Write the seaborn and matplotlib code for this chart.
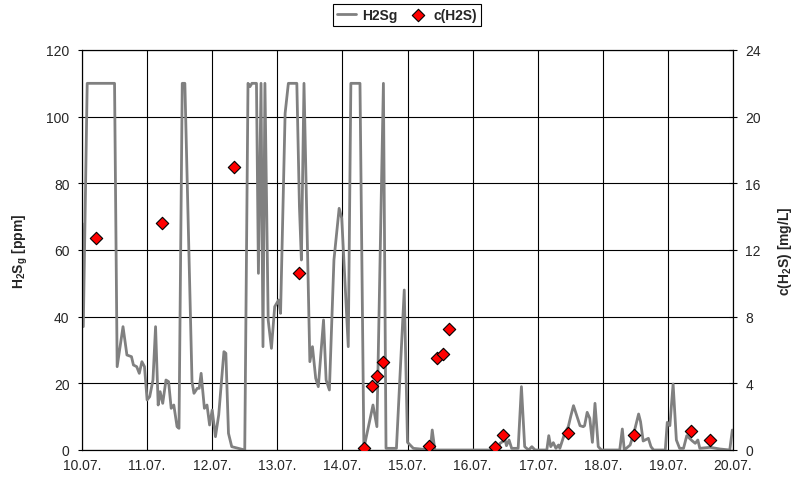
import matplotlib
matplotlib.use("Agg")
import matplotlib.pyplot as plt
import numpy as np
import pandas as pd
import seaborn as sns

# ---- data (x = days after 10.07.) ----
gas_day = [0.00, 0.02, 0.08, 0.50, 0.54, 0.63, 0.69, 0.76, 0.79, 0.84, 0.88, 0.92, 0.96,
           1.00, 1.04, 1.09, 1.13, 1.17, 1.20, 1.24, 1.29, 1.33, 1.37, 1.41, 1.46, 1.49,
           1.54, 1.58, 1.69, 1.72, 1.77, 1.80, 1.83, 1.88, 1.92, 1.96, 2.00, 2.05, 2.10,
           2.18, 2.21, 2.25, 2.30, 2.50, 2.55, 2.58, 2.61, 2.68, 2.71, 2.75, 2.78, 2.81,
           2.86, 2.91, 2.96, 3.02, 3.05, 3.12, 3.17, 3.30, 3.34, 3.37, 3.41, 3.50, 3.54,
           3.59, 3.63, 3.71, 3.75, 3.80, 3.87, 3.95, 3.99, 4.09, 4.13, 4.27, 4.33, 4.47,
           4.53, 4.63, 4.67, 4.83, 4.95, 5.00, 5.09, 5.35, 5.38, 5.42, 6.39, 6.42, 6.50,
           6.52, 6.56, 6.60, 6.70, 6.75, 6.80, 6.86, 6.91, 6.96, 7.14, 7.17, 7.20, 7.24,
           7.28, 7.32, 7.34, 7.42, 7.47, 7.51, 7.55, 7.60, 7.65, 7.70, 7.72, 7.76, 7.80,
           7.84, 7.88, 7.93, 7.98, 8.26, 8.30, 8.33, 8.42, 8.48, 8.55, 8.58, 8.62, 8.70,
           8.74, 8.78, 8.96, 8.99, 9.03, 9.08, 9.13, 9.18, 9.24, 9.29, 9.37, 9.42, 9.46,
           9.49, 9.65, 9.80, 9.95, 9.99]
gas_ppm = [68, 37, 110, 110, 25, 37, 28.5, 28, 25.5, 25, 23, 26.5, 25,
           15, 16, 21, 37, 13.5, 17.5, 14, 21, 20.5, 12.5, 13.5, 7, 6.5,
           110, 110, 20.5, 17, 18.5, 18.5, 23, 12.5, 13.5, 7.5, 12, 4, 10.5,
           29.5, 29, 5, 1, 0, 110, 109, 110, 110, 53, 110, 31, 110,
           39, 30.5, 43, 45, 41, 101, 110, 110, 73, 57, 110, 26.5, 31,
           21.5, 19, 39, 21, 18, 57, 72.5, 69.5, 31, 110, 110, 0.5, 13.5,
           7, 110, 0.5, 0.5, 48, 2.3, 0.5, 0, 6, 0, 0, 2, 3,
           1.3, 3, 0.5, 0.5, 19, 1, 0, 1, 0, 0, 4.3, 1, 2.2,
           0.5, 1.5, 0.5, 5.3, 7, 10.3, 13.3, 10.3, 7.3, 7, 7.3, 11.3, 9.5,
           2.3, 14, 1, 0, 0, 6.3, 0, 1.5, 5.3, 10.8, 8.5, 2.7, 3.5,
           1, 0, 0, 8.3, 7.3, 19.8, 3, 0.5, 0.5, 4.3, 2.8, 2, 3,
           0.5, 0.8, 0.3, 0, 6]

liq_day = [0.22, 1.23, 2.33, 3.33, 4.33, 4.45, 4.53, 4.62, 5.33, 5.45, 5.54, 5.63,
           6.34, 6.47, 7.47, 8.48, 9.35, 9.64]
liq_mgL = [12.7, 13.6, 17.0, 10.6, 0.1, 3.85, 4.45, 5.3, 0.26, 5.5, 5.75, 7.26,
           0.2, 0.92, 1.0, 0.88, 1.14, 0.62]

x_ticks = list(range(11))
x_labels = ["10.07.", "11.07.", "12.07.", "13.07.", "14.07.", "15.07.",
            "16.07.", "17.07.", "18.07.", "19.07.", "20.07."]
left_ticks = [0, 20, 40, 60, 80, 100, 120]
right_ticks = [0, 4, 8, 12, 16, 20, 24]

gas = pd.DataFrame({"day": gas_day, "ppm": gas_ppm})
liq = pd.DataFrame({"day": liq_day, "mgL": liq_mgL})

sns.set_style("white")
plt.rcParams['font.family'] = ['Liberation Sans', 'DejaVu Sans']
plt.rcParams['font.size'] = 10
plt.rcParams['mathtext.fontset'] = 'custom'
plt.rcParams['mathtext.rm'] = 'Liberation Sans'
plt.rcParams['mathtext.bf'] = 'Liberation Sans:bold'

fig = plt.figure(figsize=(7.93, 4.81), dpi=100)
ax = fig.add_axes([82/793, 30/481, 651/793, 400/481])

sns.lineplot(data=gas, x="day", y="ppm", ax=ax, color="#808080", linewidth=2,
             estimator=None, sort=False, label="H2Sg", zorder=3)
ax2 = ax.twinx()
sns.scatterplot(data=liq, x="day", y="mgL", ax=ax2, marker="D", s=40,
                color="red", edgecolor="black", linewidth=0.8, label="c(H2S)", zorder=5)

ax.set_xlim(0, 10)
ax.set_ylim(0, 120)
ax2.set_ylim(0, 24)
ax.set_xticks(x_ticks)
ax.set_xticklabels(x_labels)
ax.set_yticks(left_ticks)
ax2.set_yticks(right_ticks)

ax.grid(True, color="black", linewidth=0.8)
ax.set_axisbelow(True)
for a in (ax, ax2):
    for s in a.spines.values():
        s.set_color("black")
        s.set_linewidth(0.8)

ax.tick_params(axis="y", direction="out", length=3, width=0.8, color="black", pad=6, labelsize=10)
ax.tick_params(axis="x", direction="out", length=3, width=0.8, color="black", pad=3, labelsize=10)
ax2.tick_params(axis="y", direction="inout", length=6, width=0.8, color="black", pad=6, labelsize=10)

ax.set_xlabel("")
ax.set_ylabel(r"H$_\mathbf{2}$S$_\mathbf{g}$ [ppm]", fontweight="bold", fontsize=10)
ax2.set_ylabel(r"c(H$_\mathbf{2}$S) [mg/L]", fontweight="bold", fontsize=10)
ax.yaxis.set_label_coords(-0.080, 0.5)
ax2.yaxis.set_label_coords(1.066, 0.5)

h1, l1 = ax.get_legend_handles_labels()
h2, l2 = ax2.get_legend_handles_labels()
if ax.get_legend() is not None:
    ax.get_legend().remove()
if ax2.get_legend() is not None:
    ax2.get_legend().remove()
leg = fig.legend(h1 + h2, l1 + l2, loc="center", bbox_to_anchor=(0.513, 0.967), ncol=2,
                 frameon=True, fancybox=False, edgecolor="black", framealpha=1,
                 prop={"weight": "bold", "size": 10}, handlelength=1.4,
                 columnspacing=0.8, handletextpad=0.4, borderpad=0.3)
leg.get_frame().set_linewidth(0.8)

fig.savefig("out.png", dpi=100)
